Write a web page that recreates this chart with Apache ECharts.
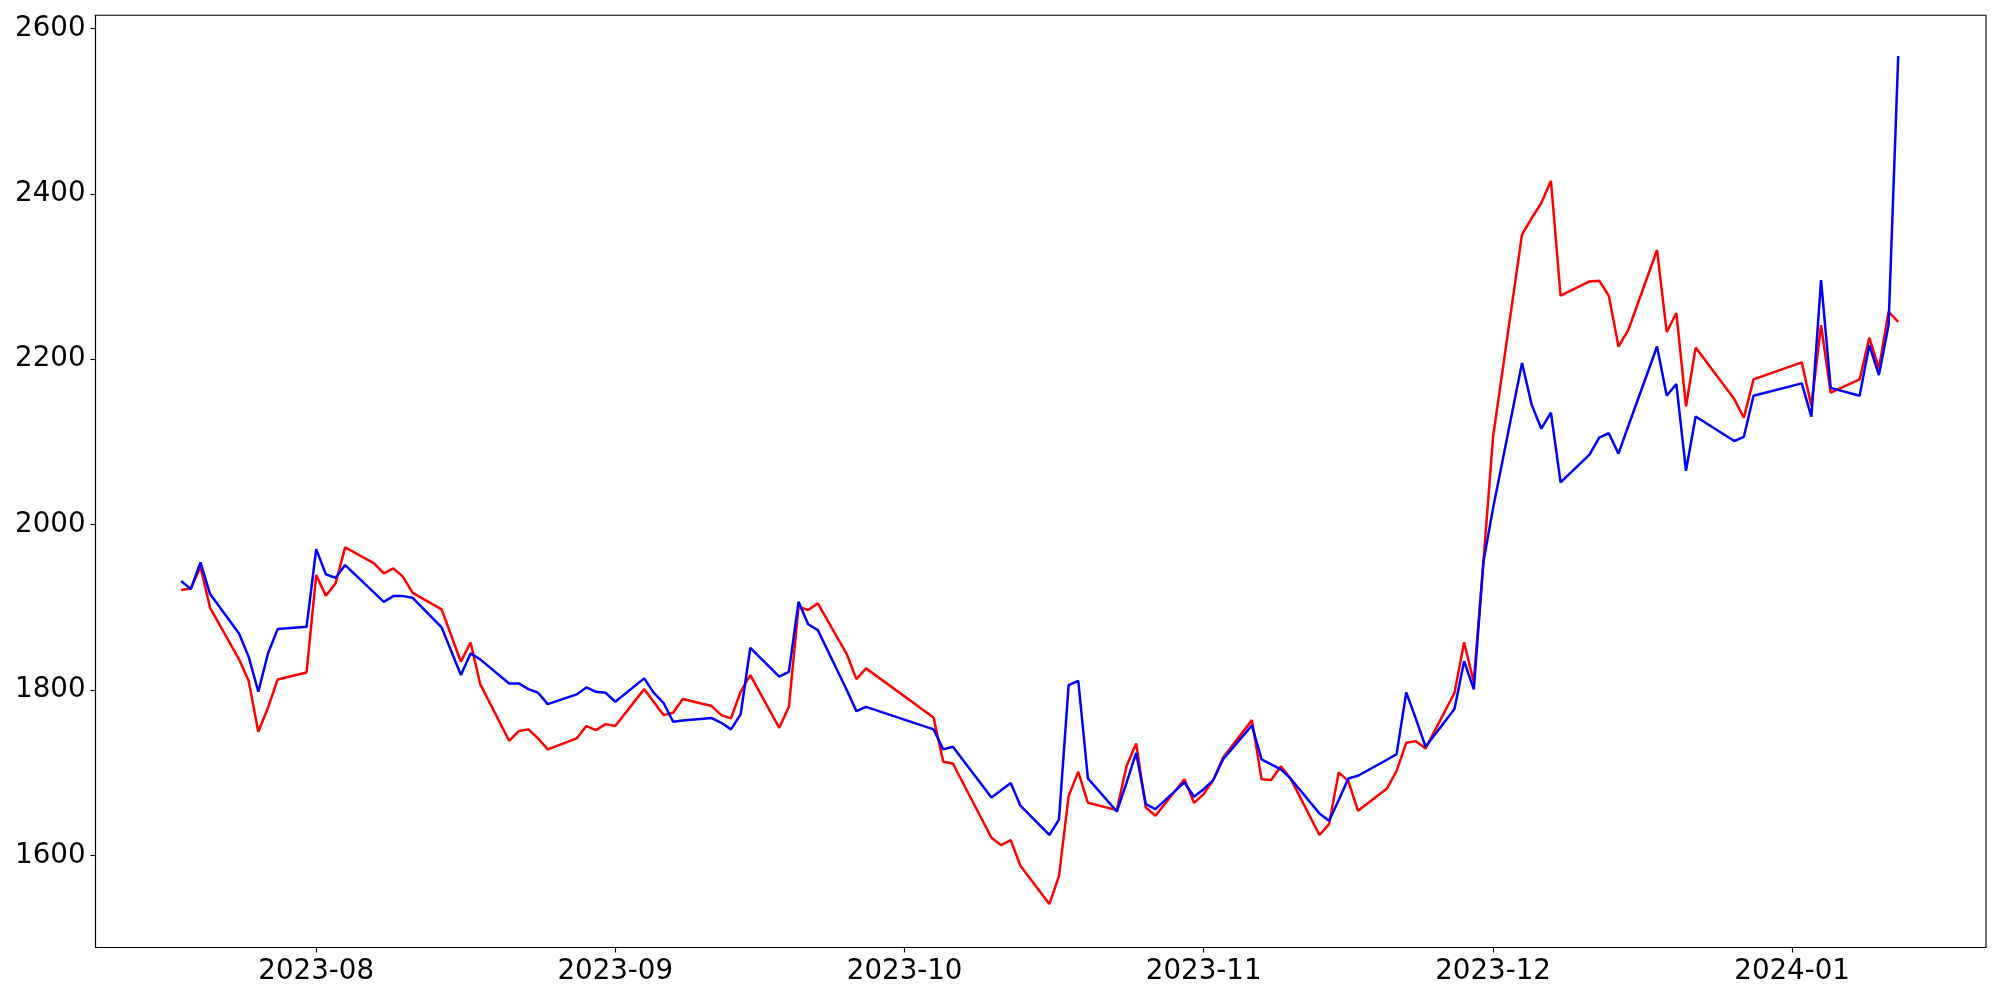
<!DOCTYPE html>
<html><head><meta charset="utf-8">
<script src="https://cdn.jsdelivr.net/npm/echarts@6.0.0/dist/echarts.min.js"></script>
<style>html,body{margin:0;padding:0;background:#fff}#c{width:2000px;height:1000px}</style>
</head><body><div id="c"></div>
<script>
const dates = [
'2023-07-18','2023-07-19','2023-07-20','2023-07-21','2023-07-24','2023-07-25','2023-07-26','2023-07-27','2023-07-28','2023-07-31',
'2023-08-01','2023-08-02','2023-08-03','2023-08-04','2023-08-07','2023-08-08','2023-08-09','2023-08-10','2023-08-11','2023-08-14','2023-08-16','2023-08-17','2023-08-18','2023-08-21','2023-08-22','2023-08-23','2023-08-24','2023-08-25','2023-08-28','2023-08-29','2023-08-30','2023-08-31',
'2023-09-01','2023-09-04','2023-09-05','2023-09-06','2023-09-07','2023-09-08','2023-09-11','2023-09-12','2023-09-13','2023-09-14','2023-09-15','2023-09-18','2023-09-19','2023-09-20','2023-09-21','2023-09-22','2023-09-25','2023-09-26','2023-09-27',
'2023-10-04','2023-10-05','2023-10-06','2023-10-10','2023-10-11','2023-10-12','2023-10-13','2023-10-16','2023-10-17','2023-10-18','2023-10-19','2023-10-20','2023-10-23','2023-10-24','2023-10-25','2023-10-26','2023-10-27','2023-10-30','2023-10-31',
'2023-11-01','2023-11-02','2023-11-03','2023-11-06','2023-11-07','2023-11-08','2023-11-09','2023-11-10','2023-11-13','2023-11-14','2023-11-15','2023-11-16','2023-11-17','2023-11-20','2023-11-21','2023-11-22','2023-11-23','2023-11-24','2023-11-27','2023-11-28','2023-11-29','2023-11-30',
'2023-12-01','2023-12-04','2023-12-05','2023-12-06','2023-12-07','2023-12-08','2023-12-11','2023-12-12','2023-12-13','2023-12-14','2023-12-15','2023-12-18','2023-12-19','2023-12-20','2023-12-21','2023-12-22','2023-12-26','2023-12-27','2023-12-28',
'2024-01-02','2024-01-03','2024-01-04','2024-01-05','2024-01-08','2024-01-09','2024-01-10','2024-01-11','2024-01-12'
];
const redValues = [
1920.8,1922.8,1949,1899.4,1837,1810.7,1749.4,1778.4,1812.7,1821.2,
1938.9,1914,1928.9,1972.4,1953.1,1941,1947,1936.9,1917.5,1897.4,1834.1,1857.5,1807.1,1738.5,1750.2,1752.3,1741.4,1728.1,1741.4,1756.3,1751.4,1758.7,
1756.3,1801,1785.3,1769.6,1772.4,1789,1780.5,1769.6,1765.6,1797.8,1818,1754.2,1779.6,1900.6,1896.6,1904.7,1843.4,1813.1,1826.1,
1766.8,1713.1,1711.1,1621.2,1612.3,1618.4,1587.3,1541,1574.8,1671.6,1701,1663.5,1654.7,1707.7,1735.3,1657.9,1647.8,1692.1,1663.5,
1674,1691,1718,1763.5,1692.1,1691,1707.7,1693,1624.6,1637.7,1700.3,1689.8,1653.8,1680.7,1702.2,1736.1,1738.1,1729.3,1796.3,1857.8,1809.4,1955,
2106.1,2351.1,2370.5,2389,2415.9,2276.8,2294.1,2295,2276.8,2215.4,2234.8,2332.1,2232.7,2256,2142.9,2214.1,2151.8,2129.2,2175.6,
2196.2,2143.4,2241.3,2159.5,2175.6,2226,2189,2257.4,2245.3
];
const blueValues = [
1931.7,1922,1954.3,1916,1868.4,1840,1797.8,1844,1873.6,1876.4,
1970.4,1939.8,1935.7,1951,1917.7,1906.6,1913.5,1913.5,1911.5,1875.7,1818,1844.2,1837,1807.9,1807.9,1801,1796.6,1782.9,1794.6,1803,1797.8,1796.6,
1785.7,1814,1796.4,1784.5,1761.5,1763,1766,1760.3,1752.3,1770.4,1851,1816,1822,1906.6,1879.5,1872.4,1800,1774.4,1779.6,
1752.3,1728.1,1731.3,1670,1678.8,1687.6,1660.1,1624.6,1643.1,1805.9,1811.1,1693,1653,1687.7,1724,1661.9,1655.9,1688.2,1670.8,
1680,1691,1716,1757.1,1716,1710,1703.9,1693,1650.7,1641.7,1666.8,1693,1696.2,1715.6,1722.4,1797,1765,1731.3,1777,1834.8,1800.7,1954.9,
2019.7,2195.5,2145.1,2116,2135.5,2051,2084.6,2105.3,2110.5,2085.8,2118.6,2215.4,2155.8,2170,2065.1,2130.8,2101.1,2106.2,2155.8,
2170.8,2130.4,2295.8,2165.4,2155.8,2217.1,2180.8,2241.3,2566.7
];
const yTicks = [1600, 1800, 2000, 2200, 2400, 2600];
const xTickLabels = ['2023-08', '2023-09', '2023-10', '2023-11', '2023-12', '2024-01'];

function ts(s) { const p = s.split('-').map(Number); return Date.UTC(p[0], p[1] - 1, p[2] || 1); }
const DAY = 86400000;
const xTicks = xTickLabels.map(s => ts(s + '-01'));
const redData = dates.map((d, i) => [ts(d), redValues[i]]);
const blueData = dates.map((d, i) => [ts(d), blueValues[i]]);
const font = 'DejaVu Sans';

const chart = echarts.init(document.getElementById('c'), null, { renderer: 'canvas' });
chart.setOption({
  animation: false,
  backgroundColor: '#ffffff',
  grid: { left: 95.5, right: 14, top: 15.3, bottom: 52.5, show: true, borderColor: '#000', borderWidth: 1.1, containLabel: false },
  xAxis: {
    type: 'value',
    min: ts(dates[0]) - 8.88 * DAY,
    max: ts(dates[dates.length - 1]) + 9.1 * DAY,
    splitLine: { show: false },
    axisLine: { show: true, onZero: false, lineStyle: { color: '#000', width: 1.1 } },
    axisTick: { show: true, customValues: xTicks, length: 5, lineStyle: { color: '#000', width: 1.1 } },
    axisLabel: {
      customValues: xTicks,
      formatter: function (v) { const i = xTicks.indexOf(v); return i >= 0 ? xTickLabels[i] : ''; },
      fontFamily: font, fontSize: 27.7, color: '#000', margin: 10
    }
  },
  yAxis: {
    type: 'value',
    min: 1488.5,
    max: 2616,
    splitLine: { show: false },
    axisLine: { show: true, onZero: false, lineStyle: { color: '#000', width: 1.1 } },
    axisTick: { show: true, customValues: yTicks, length: 5, lineStyle: { color: '#000', width: 1.1 } },
    axisLabel: { customValues: yTicks, formatter: function (v) { return String(Math.round(v)); }, fontFamily: font, fontSize: 27.7, color: '#000', margin: 10 }
  },
  series: [
    { type: 'line', data: redData, symbol: 'none', showSymbol: false, lineStyle: { color: '#ff0000', width: 2.5 }, itemStyle: { color: '#ff0000' }, z: 2 },
    { type: 'line', data: blueData, symbol: 'none', showSymbol: false, lineStyle: { color: '#0000ff', width: 2.5 }, itemStyle: { color: '#0000ff' }, z: 3 }
  ]
});
</script>
</body></html>
